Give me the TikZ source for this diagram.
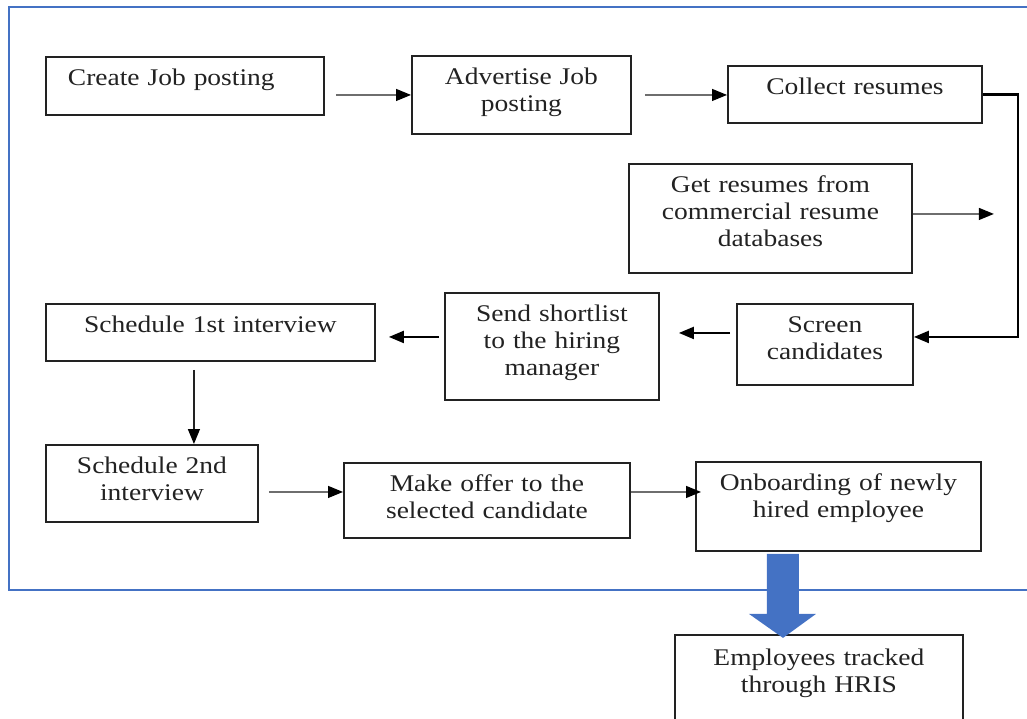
\documentclass[tikz,border=0pt]{standalone}
\usepackage{fontspec}
\setmainfont{Liberation Serif}[FakeStretch=1.15]
\usetikzlibrary{arrows.meta}
\definecolor{framecol}{RGB}{68,114,196}
\definecolor{inkcol}{RGB}{34,34,34}
\definecolor{wirecol}{RGB}{110,110,110}
\tikzset{
	stepbox/.style 2 args={draw=inkcol, line width=1.1pt, anchor=north west, inner xsep=0pt, inner ysep=0pt,
		align=center, text width=#1, text height=0.58cm, text depth=#2, text=inkcol,
		font=\fontsize{13.6}{15.1}\selectfont},
	headtip/.style={-{Triangle[length=0.3cm, width=0.24cm, color=black]}},
	thinwire/.style={headtip, draw=wirecol, line width=0.7pt},
	darkwire/.style={headtip, draw=inkcol, line width=0.7pt},
	boldwire/.style={headtip, draw=black, line width=1.2pt},
}

\begin{document}
\begin{tikzpicture}[x=0.02cm, y=-0.02cm]
	\useasboundingbox (0,0) rectangle (1027,719);
	\draw[framecol, line width=1pt] (1040,7) -- (9,7) -- (9,590) -- (1040,590);

	\node[stepbox={4.68cm}{0.58cm}, inner xsep=0.44cm, align=left] (create) at (45,56) {Create Job posting};
	\node[stepbox={4.38cm}{0.98cm}] (advertise) at (411,55) {Advertise Job\\posting};
	\node[stepbox={5.08cm}{0.56cm}] (collect) at (727,65) {Collect resumes};
	\node[stepbox={5.66cm}{1.6cm}] (getres) at (628,163) {Get resumes from\\commercial resume\\databases};
	\node[stepbox={3.52cm}{1.04cm}] (screen) at (736,303) {Screen\\candidates};
	\node[stepbox={4.28cm}{1.56cm}] (send) at (444,292) {Send shortlist\\to the hiring\\manager};
	\node[stepbox={6.58cm}{0.56cm}] (first) at (45,303) {Schedule 1st interview};
	\node[stepbox={4.24cm}{0.96cm}] (second) at (45,444) {Schedule 2nd\\interview};
	\node[stepbox={5.72cm}{0.92cm}] (offer) at (343,462) {Make offer to the\\selected candidate};
	\node[stepbox={5.7cm}{1.2cm}] (onboard) at (695,461) {Onboarding of newly\\hired employee};
	\node[stepbox={5.76cm}{1.8cm}, text height=0.62cm] (hris) at (674,634) {Employees tracked\\through HRIS};

	\draw[thinwire, shorten <=0.22cm] (create.east |- advertise.west) -- (advertise.west);
	\draw[thinwire, shorten <=0.26cm] (advertise.east) -- (advertise.east -| collect.west);
	\draw[boldwire] (collect.east) -- ++(35,0) |- ([yshift=0.15cm]screen.east);
	\draw[thinwire] ([yshift=0.09cm]getres.east) -- ++(81,0);
	\draw[boldwire, shorten <=0.12cm, shorten >=0.38cm] ([yshift=0.23cm]screen.west) -- ([yshift=0.23cm]screen.west -| send.east);
	\draw[boldwire, shorten <=0.1cm, shorten >=0.26cm] ([yshift=0.19cm]send.west) -- ([yshift=0.19cm]send.west -| first.east);
	\draw[darkwire, shorten <=0.16cm] ([xshift=-0.33cm]first.south) -- ([xshift=-0.33cm]first.south |- second.north);
	\draw[thinwire, shorten <=0.2cm] ([yshift=-0.17cm]second.east) -- ([yshift=-0.17cm]second.east -| offer.west);
	\draw[thinwire, shorten >=-0.12cm] ([yshift=0.17cm]offer.east) -- ([yshift=0.17cm]offer.east -| onboard.west);

	\fill[framecol] ([xshift=1.44cm, yshift=-0.04cm]onboard.south west) -- ++(32,0) -- ++(0,60) -- ++(17,0)
		-- ++(-33,24) -- ++(-34,-24) -- ++(18,0) -- cycle;
\end{tikzpicture}
\end{document}
